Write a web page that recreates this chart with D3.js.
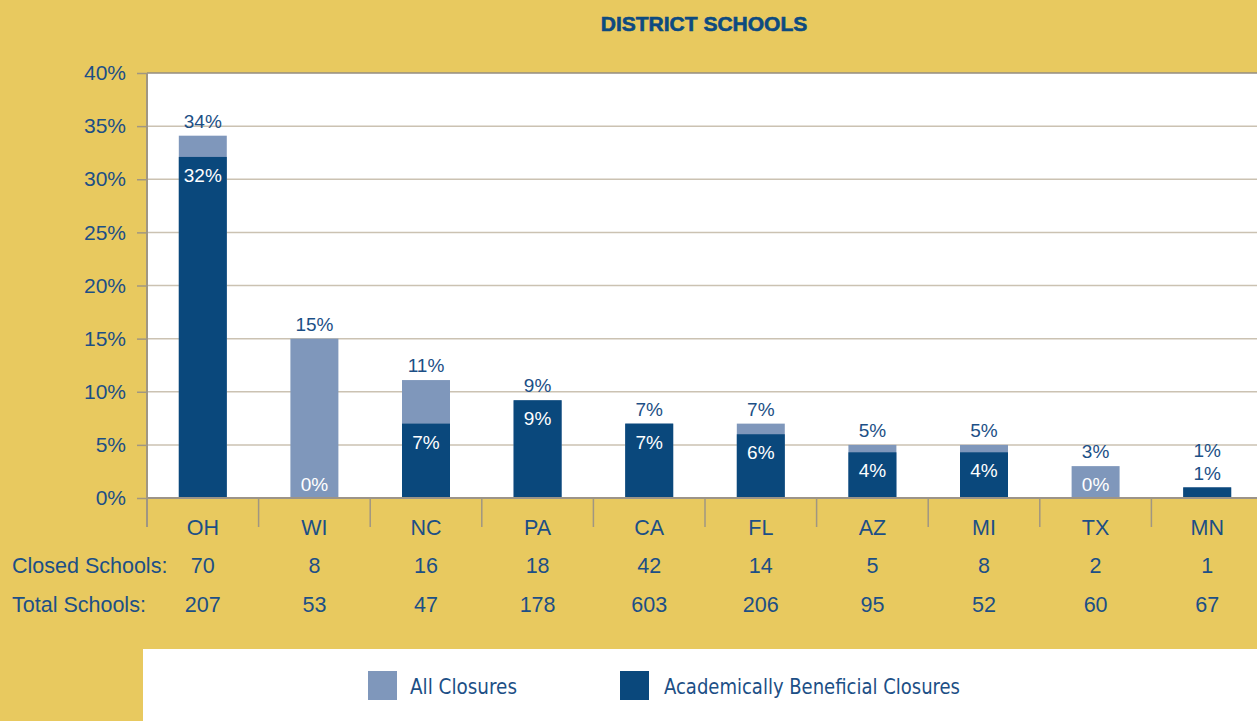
<!DOCTYPE html>
<html>
<head>
<meta charset="utf-8">
<script src="https://cdn.jsdelivr.net/npm/d3@7"></script>
<style>
  body { margin: 0; background: #e8c95f; }
  svg { display: block; font-family: "Liberation Sans", Arial, sans-serif; }
</style>
</head>
<body>
<script>
const states = ["OH", "WI", "NC", "PA", "CA", "FL", "AZ", "MI", "TX", "MN"]
const allClosures = [34.1, 15, 11.1, 9.2, 7, 7, 5, 5, 3, 1]
const beneficialClosures = [32.1, 0, 7, 9.2, 7, 6, 4.3, 4.3, 0, 1]
const closedSchools = [70, 8, 16, 18, 42, 14, 5, 8, 2, 1]
const totalSchools = [207, 53, 47, 178, 603, 206, 95, 52, 60, 67]
const yTicks = [0, 5, 10, 15, 20, 25, 30, 35, 40]

const W = 1257, H = 721
const yellow = "#e8c95f"
const dark = "#0a487c"
const light = "#7f97bb"
const textBlue = "#1c4f86"
const grid = "#cbc2b2"
const axisGrey = "#a09682"

const plot = {left: 147, top: 73, bottom: 498}

const svg = d3.select("body").append("svg")
  .attr("width", W)
  .attr("height", H)

svg.append("rect").attr("width", W).attr("height", H).attr("fill", yellow)

const x = d3.scaleBand()
  .domain(states)
  .range([plot.left, plot.left + 1116])
  .paddingInner(0.57)
  .paddingOuter(0.285)

const y = d3.scaleLinear()
  .domain([0, 40])
  .range([plot.bottom, plot.top])

const step = x.step()
const bandStart = d => x(d) - x.paddingOuter() * step
const center = d => x(d) + x.bandwidth() / 2

// white plot background
svg.append("rect")
  .attr("x", plot.left)
  .attr("y", plot.top)
  .attr("width", W - plot.left)
  .attr("height", plot.bottom - plot.top)
  .attr("fill", "#fff")

// gridlines
svg.append("g")
  .selectAll("line")
  .data(yTicks.filter(t => t > 0 && t < 40))
  .join("line")
  .attr("x1", plot.left).attr("x2", W)
  .attr("y1", d => y(d)).attr("y2", d => y(d))
  .attr("stroke", grid)
  .attr("stroke-width", 1.5)

// top border
svg.append("line")
  .attr("x1", plot.left).attr("x2", W)
  .attr("y1", y(40)).attr("y2", y(40))
  .attr("stroke", "#958d80").attr("stroke-width", 1.5)

// y axis
const yAxis = svg.append("g")
  .attr("transform", `translate(${plot.left},0)`)
  .call(d3.axisLeft(y).tickValues(yTicks).tickFormat(d => d + "%").tickSize(10).tickPadding(11))

yAxis.select(".domain").remove()
yAxis.selectAll(".tick line").attr("stroke", axisGrey).attr("stroke-width", 1.5)
yAxis.selectAll(".tick text")
  .attr("fill", textBlue)
  .style("font-size", "21px")
  .style("font-family", "'Liberation Sans', Arial, sans-serif")

// bars
const rows = states.map((s, i) => ({state: s, all: allClosures[i], ben: beneficialClosures[i]}))

svg.append("g").selectAll("rect")
  .data(rows)
  .join("rect")
  .attr("x", d => x(d.state))
  .attr("width", x.bandwidth())
  .attr("y", d => y(d.all))
  .attr("height", d => y(0) - y(d.all))
  .attr("fill", light)

svg.append("g").selectAll("rect")
  .data(rows)
  .join("rect")
  .attr("x", d => x(d.state))
  .attr("width", x.bandwidth())
  .attr("y", d => y(d.ben))
  .attr("height", d => y(0) - y(d.ben))
  .attr("fill", dark)

// value labels
const pct = v => Math.round(v) + "%"
const labels = svg.append("g").style("font-size", "19px").attr("text-anchor", "middle")

rows.forEach(d => {
  const benInside = d.ben >= 2
  const benY = benInside ? y(d.ben) + 25 : y(d.ben) - 7
  const onBar = benInside || d.all - d.ben > 1.5
  labels.append("text")
    .attr("x", center(d.state))
    .attr("y", benY)
    .attr("fill", onBar ? "#fff" : textBlue)
    .text(pct(d.ben))

  let allY = y(d.all) - 8
  if (!onBar) allY = benY - 23
  labels.append("text")
    .attr("x", center(d.state))
    .attr("y", allY)
    .attr("fill", textBlue)
    .text(pct(d.all))
})

// left axis line and baseline
svg.append("line")
  .attr("x1", plot.left).attr("x2", plot.left)
  .attr("y1", plot.top).attr("y2", 527)
  .attr("stroke", axisGrey).attr("stroke-width", 2)

svg.append("line")
  .attr("x1", plot.left).attr("x2", W)
  .attr("y1", plot.bottom).attr("y2", plot.bottom)
  .attr("stroke", "#9c9488").attr("stroke-width", 2)

// category dividers
svg.append("g").selectAll("line")
  .data(states.slice(1))
  .join("line")
  .attr("x1", d => bandStart(d)).attr("x2", d => bandStart(d))
  .attr("y1", plot.bottom).attr("y2", 527)
  .attr("stroke", axisGrey).attr("stroke-width", 1.5)

// category labels and table rows
const table = svg.append("g").attr("fill", textBlue).style("font-size", "21.5px")

table.selectAll("text.cat")
  .data(states)
  .join("text")
  .attr("class", "cat")
  .attr("x", d => center(d))
  .attr("y", 535)
  .attr("text-anchor", "middle")
  .text(d => d)

const tableRows = [
  {label: "Closed Schools:", values: closedSchools, y: 573},
  {label: "Total Schools:", values: totalSchools, y: 612}
]

tableRows.forEach(r => {
  table.append("text").attr("x", 12).attr("y", r.y).text(r.label)
  table.append("g").selectAll("text")
    .data(r.values)
    .join("text")
    .attr("x", (v, i) => center(states[i]))
    .attr("y", r.y)
    .attr("text-anchor", "middle")
    .text(v => v)
})

// title
svg.append("text")
  .attr("x", 704)
  .attr("y", 31)
  .attr("text-anchor", "middle")
  .attr("fill", "#0d4a80")
  .attr("stroke", "#0d4a80")
  .attr("stroke-width", 0.6)
  .style("font-size", "21px")
  .style("font-weight", "bold")
  .text("DISTRICT SCHOOLS")

// legend
const legend = svg.append("g")
legend.append("rect")
  .attr("x", 143).attr("y", 649)
  .attr("width", W - 143).attr("height", H - 649)
  .attr("fill", "#fff")

const legendItems = [
  {label: "All Closures", color: light, x: 368, tx: 410, len: 107},
  {label: "Academically Beneficial Closures", color: dark, x: 620, tx: 664, len: 296}
]

legendItems.forEach(it => {
  legend.append("rect")
    .attr("x", it.x).attr("y", 671)
    .attr("width", 29).attr("height", 29)
    .attr("fill", it.color)
  legend.append("text")
    .attr("x", it.tx).attr("y", 694)
    .attr("fill", textBlue)
    .attr("textLength", it.len)
    .attr("lengthAdjust", "spacingAndGlyphs")
    .style("font-family", "'Liberation Sans Narrow', 'DejaVu Sans Condensed', sans-serif")
    .style("font-size", "22px")
    .text(it.label)
})
</script>
</body>
</html>
